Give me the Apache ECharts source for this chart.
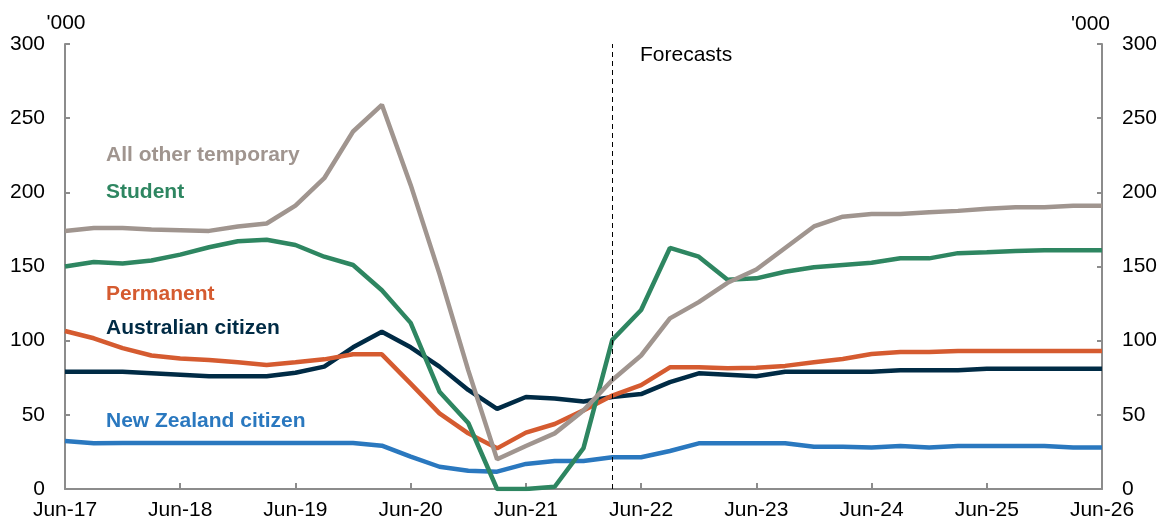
<!DOCTYPE html>
<html><head><meta charset="utf-8">
<script src="https://cdn.jsdelivr.net/npm/echarts@6/dist/echarts.min.js"></script>
<style>html,body{margin:0;padding:0;background:#fff}#c{width:1165px;height:529px}</style>
</head><body><div id="c"></div>
<script>
const categories = [];
const months = ['Jun','Sep','Dec','Mar'];
for (let i = 0; i < 37; i++) {
  const m = months[i % 4];
  const y = 17 + Math.floor((i + 2) / 4);
  categories.push(m + '-' + y);
}
const allOtherTemporary = [174,176,176,175,174.5,174,177,179,191,209.5,241,259,205,145,80,20,29,37.5,53,73.5,90,115,126,139,148,162.5,177,183.6,185.4,185.4,186.6,187.5,189,190,190,191,191];
const student = [150,153,152,154,158,163,167,168,164.5,156.6,151,134,112,65.6,44.5,0,0,1.5,27.6,100.5,120.7,162.5,156.6,141,142,146.5,149.5,151,152.5,155.5,155.5,159,159.6,160.5,161,161,161];
const permanent = [106.5,101.6,95,90,88,87,85.4,83.6,85.4,87.4,90.8,90.8,71,51,37.5,27.4,38,43.8,53,63,70,82,82,81.4,81.8,83,85.4,87.7,91,92.3,92.3,93,93,93,93,93,93];
const australianCitizen = [79,79,79,78,77,76,76,76,78.4,82.5,95.5,106,95.5,82.5,66.8,54,62,61,59,62,64,72,78,77,76,79,79,79,79,80,80,80,81,81,81,81,81];
const newZealandCitizen = [32.4,30.8,31,31,31,31,31,31,31,31,31,29.2,21.8,15,12.3,11.7,16.9,18.9,18.9,21.4,21.4,25.6,30.8,30.8,30.8,30.8,28.5,28.5,27.9,29,28,29,29,29,29,28,28];
const forecastStart = 'Mar-22';

const C = {grey:'#A0958F', green:'#2E8661', orange:'#D55B30', navy:'#002B45', blue:'#2A78BF'};
const font = 'Liberation Sans, Arial, sans-serif';
const FS = 21;
const chart = echarts.init(document.getElementById('c'));
function line(name, data, color, extra) {
  return Object.assign({name, type:'line', data, symbol:'none', lineStyle:{width:4.5, color}, itemStyle:{color}, z:3, animation:false}, extra||{});
}
const yAxisBase = {
  type:'value', min:0, max:300, interval:50,
  axisLine:{show:true, lineStyle:{color:'#8c8c8c', width:2}},
  axisTick:{show:true, inside:true, length:5, lineStyle:{color:'#8c8c8c', width:2}},
  splitLine:{show:false},
  axisLabel:{color:'#000', fontSize:FS, fontFamily:font, margin:20},
  name:"'000", nameLocation:'end', nameGap:9,
};
chart.setOption({
  animation:false,
  grid:{left:65, right:63, top:44, bottom:40, containLabel:false},
  xAxis:{
    type:'category', data:categories, boundaryGap:false,
    axisLine:{lineStyle:{color:'#8c8c8c', width:2}},
    axisTick:{inside:true, length:6, interval:3, lineStyle:{color:'#8c8c8c', width:2}},
    axisLabel:{interval:3, color:'#000', fontSize:FS, fontFamily:font, margin:11},
    splitLine:{show:false}
  },
  yAxis:[
    Object.assign({}, yAxisBase, {position:'left',
      nameTextStyle:{color:'#000', fontSize:FS, fontFamily:font, align:'center', padding:[0,0,0,2]}}),
    Object.assign({}, yAxisBase, {position:'right',
      nameTextStyle:{color:'#000', fontSize:FS, fontFamily:font, align:'right', padding:[0,-8,0,0]}})
  ],
  series:[
    line('New Zealand citizen', newZealandCitizen, C.blue),
    line('Australian citizen', australianCitizen, C.navy),
    line('Permanent', permanent, C.orange),
    line('Student', student, C.green),
    line('All other temporary', allOtherTemporary, C.grey, {
      markLine:{symbol:'none', silent:true, label:{show:false},
        lineStyle:{color:'#000', type:[5,4], width:1},
        data:[{xAxis:forecastStart}]}
    })
  ],
  graphic:[
    {type:'text', left:640, top:45, style:{text:'Forecasts', fill:'#000', font:FS+'px '+font}},
    {type:'text', left:106, top:145, style:{text:'All other temporary', fill:C.grey, font:'bold '+FS+'px '+font}},
    {type:'text', left:106, top:182, style:{text:'Student', fill:C.green, font:'bold '+FS+'px '+font}},
    {type:'text', left:106, top:284, style:{text:'Permanent', fill:C.orange, font:'bold '+FS+'px '+font}},
    {type:'text', left:106, top:318, style:{text:'Australian citizen', fill:C.navy, font:'bold '+FS+'px '+font}},
    {type:'text', left:106, top:411, style:{text:'New Zealand citizen', fill:C.blue, font:'bold '+FS+'px '+font}}
  ]
});
</script></body></html>
